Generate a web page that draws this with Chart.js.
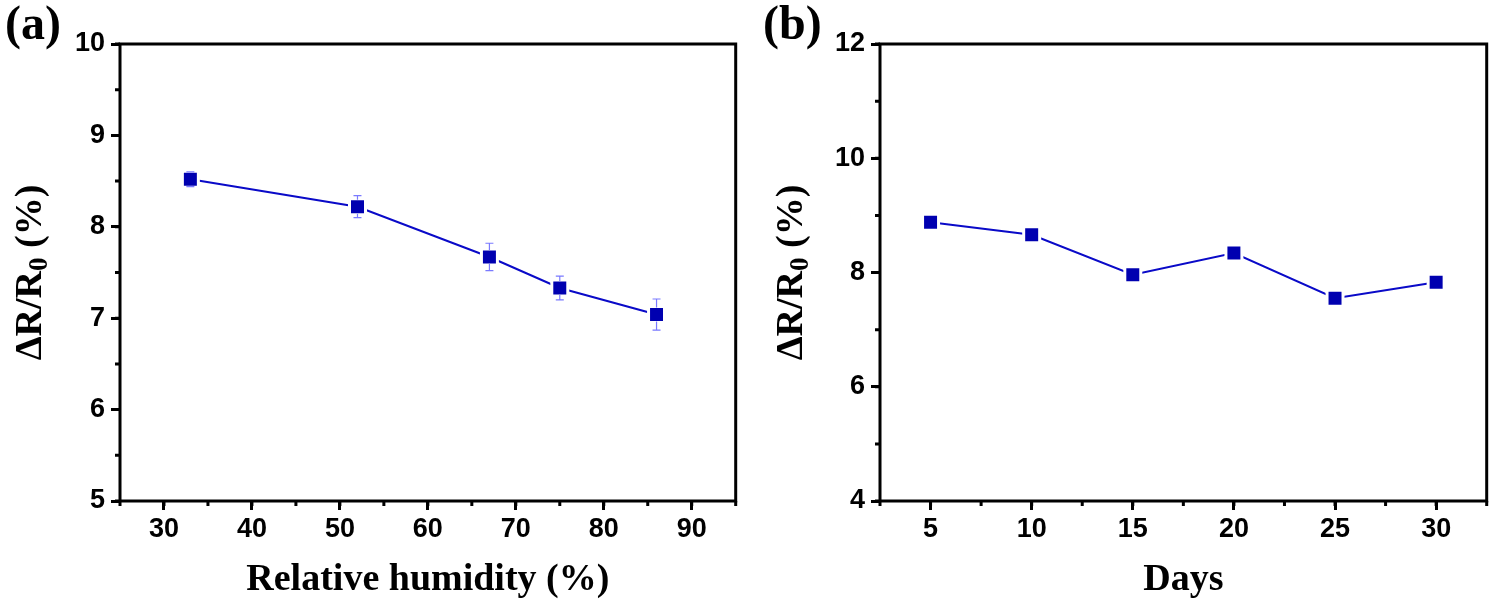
<!DOCTYPE html>
<html>
<head>
<meta charset="utf-8">
<script src="https://cdn.jsdelivr.net/npm/chart.js@4.4.1/dist/chart.umd.min.js"></script>
<style>
  html, body { margin: 0; padding: 0; background: #fff; }
  #wrap { position: relative; width: 1501px; height: 604px; }
  canvas { position: absolute; top: 0; }
</style>
</head>
<body>
<div id="wrap">
  <canvas id="chartA" width="750" height="604" style="left:0"></canvas>
  <canvas id="chartB" width="751" height="604" style="left:750px"></canvas>
</div>
<script>
// panel (a): response vs relative humidity
const humidity = [33, 52, 67, 75, 86];
const responseHumidity = [8.52, 8.22, 7.67, 7.33, 7.04];
const errorHumidity = [0.08, 0.12, 0.15, 0.13, 0.17];
const humidityTicks = [30, 40, 50, 60, 70, 80, 90];

// panel (b): response vs days
const days = [5, 10, 15, 20, 25, 30];
const responseDays = [8.88, 8.66, 7.96, 8.34, 7.55, 7.83];
const dayTicks = [5, 10, 15, 20, 25, 30];

const blue = "#0000b0";
const lineBlue = "#0a0ac8";
const tickFont = { family: "'Liberation Sans', Arial, sans-serif", weight: "bold", size: 27 };
const serif = "'Liberation Serif', 'Times New Roman', serif";

// frame, minor ticks, y title with subscript, panel label, error bars
const panelDecor = {
  id: "panelDecor",
  afterDatasetsDraw(chart, args, opts) {
    const ctx = chart.ctx;
    const area = chart.chartArea;
    const xs = chart.scales.x;
    const ys = chart.scales.y;
    ctx.save();

    // error bars
    if (opts.errors) {
      const meta = chart.getDatasetMeta(0);
      ctx.strokeStyle = "#7a7aff";
      ctx.lineWidth = 1.2;
      opts.errors.forEach((e, i) => {
        const x = xs.getPixelForValue(chart.data.datasets[0].data[i].x);
        const yv = chart.data.datasets[0].data[i].y;
        const yTop = ys.getPixelForValue(yv + e);
        const yBot = ys.getPixelForValue(yv - e);
        const yc = meta.data[i].y;
        ctx.beginPath();
        if (yc - yTop > 7) { ctx.moveTo(x, yTop); ctx.lineTo(x, yc - 7); }
        if (yBot - yc > 7) { ctx.moveTo(x, yc + 7); ctx.lineTo(x, yBot); }
        ctx.moveTo(x - 4, yTop); ctx.lineTo(x + 4, yTop);
        ctx.moveTo(x - 4, yBot); ctx.lineTo(x + 4, yBot);
        ctx.stroke();
      });
    }

    // minor ticks
    ctx.strokeStyle = "#000";
    ctx.lineWidth = 3;
    ctx.beginPath();
    for (let v = xs.min; v <= xs.max + 1e-9; v += opts.minorX) {
      const px = xs.getPixelForValue(v);
      ctx.moveTo(px, area.bottom);
      ctx.lineTo(px, area.bottom + 5);
    }
    for (let v = ys.min; v <= ys.max + 1e-9; v += opts.minorY) {
      const py = ys.getPixelForValue(v);
      ctx.moveTo(area.left, py);
      ctx.lineTo(area.left - 5, py);
    }
    ctx.stroke();

    // frame
    ctx.lineWidth = 3;
    ctx.strokeRect(area.left, area.top, area.right - area.left, area.bottom - area.top);

    // y axis title: ΔR/R0 (%)
    ctx.fillStyle = "#000";
    ctx.textBaseline = "middle";
    const big = "bold 38px " + serif;
    const small = "bold 27px " + serif;
    ctx.font = big;
    const w1 = ctx.measureText("ΔR/R").width;
    const w3 = ctx.measureText(" (%)").width;
    ctx.font = small;
    const w2 = ctx.measureText("0").width;
    const total = w1 + w2 + w3;
    ctx.translate(opts.titleX, (area.top + area.bottom) / 2);
    ctx.rotate(-Math.PI / 2);
    let tx = -total / 2;
    ctx.textAlign = "left";
    ctx.font = big;
    ctx.fillText("ΔR/R", tx, 0);
    tx += w1;
    ctx.font = small;
    ctx.fillText("0", tx, 9);
    tx += w2;
    ctx.font = big;
    ctx.fillText(" (%)", tx, 0);
    ctx.setTransform(1, 0, 0, 1, 0, 0);

    // panel label
    ctx.font = "bold 48px " + serif;
    ctx.textAlign = "left";
    ctx.textBaseline = "alphabetic";
    ctx.fillText(opts.label, opts.labelX, 39);
    ctx.restore();
  }
};

function makeChart(id, xs, ys, xTicks, cfg) {
  const points = xs.map((x, i) => ({ x: x, y: ys[i] }));
  return new Chart(document.getElementById(id), {
    type: "line",
    data: {
      datasets: [{
        data: points,
        borderColor: lineBlue,
        borderWidth: 2,
        backgroundColor: blue,
        pointStyle: "rect",
        pointRadius: 11.3,
        pointBackgroundColor: blue,
        pointBorderColor: "#fff",
        pointBorderWidth: 3,
        tension: 0,
      }],
    },
    options: {
      responsive: false,
      animation: false,
      devicePixelRatio: 1,
      events: [],
      layout: { padding: { left: 0, right: cfg.padRight, top: 44, bottom: 0 } },
      plugins: {
        legend: { display: false },
        tooltip: { enabled: false },
        panelDecor: cfg.decor,
      },
      scales: {
        x: {
          type: "linear",
          min: cfg.xMin,
          max: cfg.xMax,
          afterBuildTicks: (scale) => {
            scale.ticks = xTicks.map((v) => ({ value: v }));
          },
          afterFit: (scale) => { scale.height = 103; },
          grid: { drawOnChartArea: false, color: "#000", lineWidth: 3, tickLength: 9 },
          border: { display: false },
          ticks: { color: "#000", font: tickFont, padding: 3, maxRotation: 0 },
          title: {
            display: true,
            text: cfg.xTitle,
            color: "#000",
            font: { family: serif, weight: "bold", size: 38 },
            padding: { top: 0, bottom: 1 },
          },
        },
        y: {
          min: cfg.yMin,
          max: cfg.yMax,
          afterFit: (scale) => { scale.width = cfg.yWidth; },
          grid: { drawOnChartArea: false, color: "#000", lineWidth: 3, tickLength: 9 },
          border: { display: false },
          ticks: { color: "#000", font: tickFont, stepSize: cfg.yStep, padding: 6 },
        },
      },
    },
    plugins: [panelDecor],
  });
}

makeChart("chartA", humidity, responseHumidity, humidityTicks, {
  xMin: 25, xMax: 95, yMin: 5, yMax: 10, yStep: 1,
  yWidth: 120, padRight: 12,
  xTitle: "Relative humidity (%)",
  decor: { label: "(a)", labelX: 5, titleX: 31, minorX: 5, minorY: 0.5, errors: errorHumidity },
});

makeChart("chartB", days, responseDays, dayTicks, {
  xMin: 2.5, xMax: 32.5, yMin: 4, yMax: 12, yStep: 2,
  yWidth: 130, padRight: 5,
  xTitle: "Days",
  decor: { label: "(b)", labelX: 13, titleX: 42, minorX: 2.5, minorY: 1, errors: null },
});
</script>
</body>
</html>
